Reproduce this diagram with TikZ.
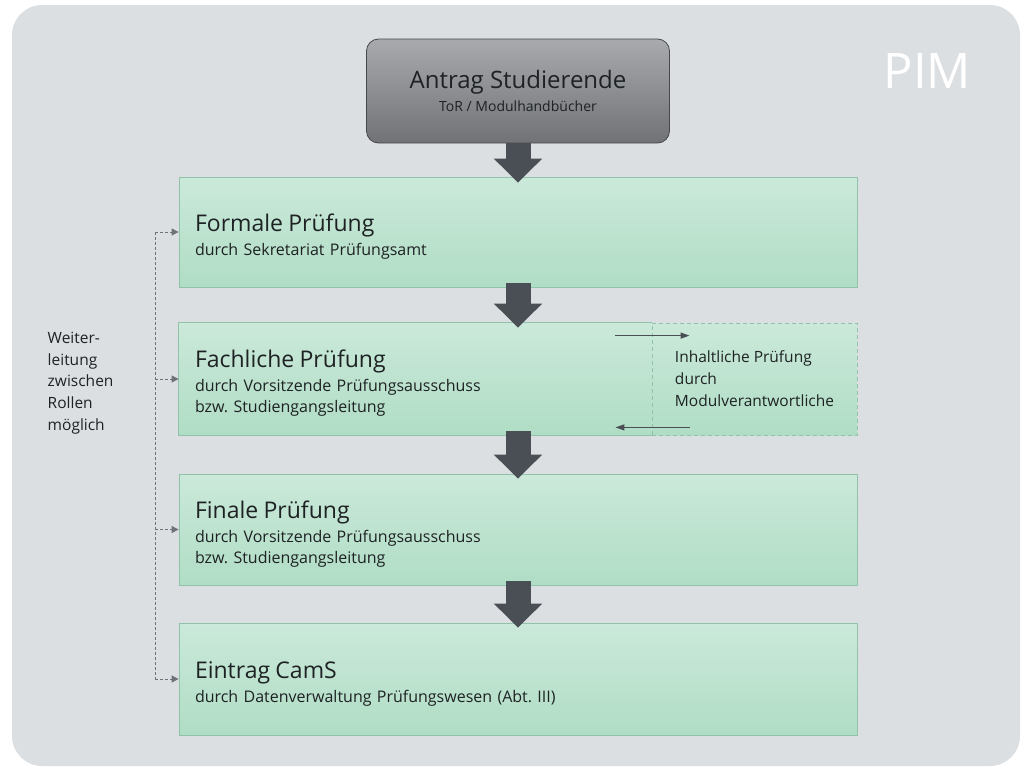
\documentclass[tikz,border=0pt]{standalone}
\usepackage{fontspec}
\setmainfont{Open Sans}
\usetikzlibrary{arrows.meta}
\frenchspacing
\definecolor{bggray}{RGB}{220,223,226}
\definecolor{starttop}{RGB}{168,170,173}
\definecolor{startbot}{RGB}{112,114,118}
\definecolor{startline}{RGB}{70,72,76}
\definecolor{stagetop}{RGB}{203,233,218}
\definecolor{stagebot}{RGB}{176,221,197}
\definecolor{stageline}{RGB}{145,195,170}
\definecolor{arrowgray}{RGB}{74,79,86}
\definecolor{textdark}{RGB}{30,34,36}
\newcommand{\stagetitle}[1]{{\fontsize{23}{24}\selectfont\rule{0pt}{26pt}#1}\\[3pt]}
\begin{document}
\begin{tikzpicture}[x=1pt,y=-1pt,line width=.8pt,
    startbox/.style={draw=startline,rounded corners=12pt,top color=starttop,bottom color=startbot,minimum width=303pt,minimum height=104pt,align=center,text=textdark},
    stage/.style={top color=stagetop,bottom color=stagebot,inner xsep=16pt,align=left,text=textdark,font=\fontsize{16}{21}\selectfont},
    blockarrow/.style={draw=arrowgray,line width=25pt,-{Triangle[width=47pt,length=24pt]}},
    railline/.style={draw=arrowgray!80,line width=1pt,dash pattern=on 3pt off 2pt},
    railarrow/.style={railline,-{Triangle[width=7pt,length=7pt]}},
    swaparrow/.style={draw=arrowgray,line width=1.2pt,-{Triangle[width=6pt,length=9pt]}}]
  \useasboundingbox (0,0) rectangle (1023,769);
  \fill[bggray,rounded corners=30pt] (12,5) rectangle (1020,766);
  \node[text=white,font=\fontsize{49}{49}\selectfont,anchor=base west] (pim) at (880,88) {PIM};

  % Antrag
  \node[startbox] (antrag) at (518,91) {{\fontsize{24}{26}\selectfont Antrag Studierende}\\[6pt]{\fontsize{14}{16}\selectfont ToR / Modulhandbücher}};

  % Stufen
  \node[stage,draw=stageline,text width=646pt,minimum height=110pt] (formal) at (518,232)
       {\stagetitle{Formale Prüfung}durch Sekretariat Prüfungsamt};
  \node[stage,text width=441pt,minimum height=112pt] (fach) at (415.5,379)
       {\stagetitle{Fachliche Prüfung}durch Vorsitzende Prüfungsausschuss\\bzw. Studiengangsleitung};
  \draw[stageline] (fach.north east) -- (fach.north west) -- (fach.south west) -- (fach.south east);
  \node[stage,draw=stageline,dash pattern=on 4pt off 3pt,minimum width=205pt,minimum height=112pt,inner xsep=8pt,font=\fontsize{15.5}{22}\selectfont] (inhalt) at (754.5,379)
       {Inhaltliche Prüfung\\durch\\Modulverantwortliche};
  \node[stage,draw=stageline,text width=646pt,minimum height=111pt] (final) at (518,529.5)
       {\stagetitle{Finale Prüfung}durch Vorsitzende Prüfungsausschuss\\bzw. Studiengangsleitung};
  \node[stage,draw=stageline,text width=646pt,minimum height=112pt] (eintrag) at (518,679)
       {\stagetitle{Eintrag CamS}durch Datenverwaltung Prüfungswesen (Abt. III)};

  % Pfeile
  \draw[blockarrow,shorten >=-6pt]                  (antrag.south) -- (formal.north);
  \draw[blockarrow,shorten <=-4pt,shorten >=-5pt]   (formal.south) -- (fach.north -| formal.south);
  \draw[blockarrow,shorten <=-4pt,shorten >=-5pt]   (fach.south -| formal.south) -- (final.north);
  \draw[blockarrow,shorten <=-4pt,shorten >=-5pt]   (final.south) -- (eintrag.north);

  \draw[swaparrow] ([xshift=-37pt,yshift=-13pt]fach.north east) -- ([xshift=38pt,yshift=-13pt]inhalt.north west);
  \draw[swaparrow] ([xshift=38pt,yshift=8pt]inhalt.south west) -- ([xshift=-37pt,yshift=8pt]fach.south east);

  % Weiterleitung
  \coordinate (rail) at (155,0);
  \node[anchor=west,align=left,text=textdark,font=\fontsize{15.5}{21.7}\selectfont] (rollen) at (44,383)
       {Weiter-\\leitung\\zwischen\\Rollen\\möglich};
  \draw[railline] (formal.west -| rail) -- (eintrag.west -| rail);
  \foreach \n in {formal,fach,final,eintrag}
    \draw[railarrow] (\n.west -| rail) -- (\n.west);
\end{tikzpicture}
\end{document}
